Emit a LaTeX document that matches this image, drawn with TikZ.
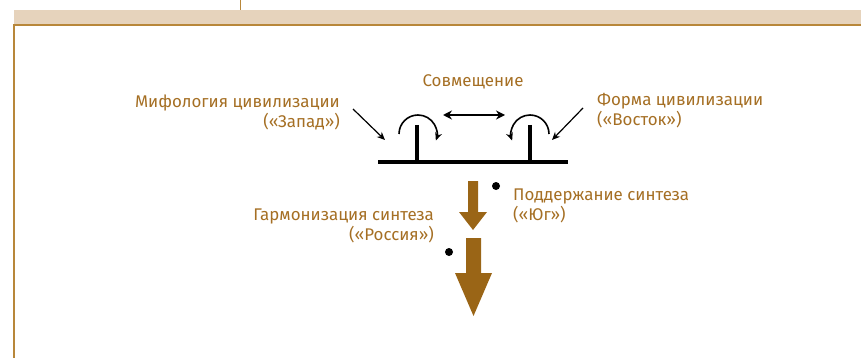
\documentclass[tikz,border=0pt]{standalone}
\usepackage{fontspec}
\setmainfont{Fira Sans}
\usetikzlibrary{arrows.meta}

\definecolor{beige}{HTML}{E6D3BC}
\definecolor{brun}{HTML}{B8873A}
\definecolor{ocre}{HTML}{9A6516}
\definecolor{texte}{HTML}{A56F24}

\tikzset{
  etiquette/.style={text=texte, inner sep=0pt, font=\fontsize{16.9}{20}\selectfont},
  fleche/.style={-{Stealth[length=8pt,width=7pt]}, line width=1.2pt},
  rotation/.style={-{Stealth[length=8pt,width=7pt]}, line width=1.6pt},
  support/.style={line width=3.5pt},
}

\begin{document}
\begin{tikzpicture}[x=1pt, y=-1pt]
  % Cadre
  \useasboundingbox (0,0) rectangle (861,358);
  \fill[beige] (14,10) rectangle (861,25);
  \draw[brun, line width=1.2pt] (14,358) -- (14,25) -- (861,25);
  \draw[brun, line width=1pt] (240,0) -- (240,10);

  % Points
  \coordinate (Bg) at (378,162);
  \coordinate (Bd) at (568,162);
  \coordinate (Pg) at (417,125);
  \coordinate (Pd) at (530,125);
  \coordinate (Eg) at (443,115);
  \coordinate (Ed) at (505,115);
  \coordinate (Zg) at (353,109);
  \coordinate (Dg) at (385,140);
  \coordinate (Zd) at (583,108);
  \coordinate (Dd) at (552,140);

  % Support et axes
  \draw[support] (Bg) -- (Bd);
  \draw[support] (Pg) -- (Pg |- Bg);
  \draw[support] (Pd) -- (Pd |- Bd);

  % Rotations
  \draw[rotation] (399,134) arc[start angle=180, end angle=380, radius=19];
  \draw[rotation] (549,134) arc[start angle=0, end angle=-200, radius=19];

  % Совмещение
  \node[etiquette, anchor=base] (sovm) at (473,87) {Совмещение};
  \draw[{Stealth[length=9pt,width=9pt]}-{Stealth[length=9pt,width=9pt]}, line width=2pt] (Eg) -- (Ed);

  % Запад et Восток
  \node[etiquette, anchor=base east, align=right] (zapad) at (340,128)
    {Мифология цивилизации\\(«Запад»)};
  \node[etiquette, anchor=base west, align=left] (vostok) at (597,126)
    {Форма цивилизации\\(«Восток»)};
  \draw[fleche] (Zg) -- (Dg);
  \draw[fleche] (Zd) -- (Dd);

  % Flèches de synthèse
  \fill[ocre] (468,181) -- (478,181) -- (478,212) -- (487,212) -- (473,230)
    -- (459,212) -- (468,212) -- cycle;
  \fill[ocre] (466,238) -- (481,238) -- (481,273) -- (492,273) -- (473.5,316)
    -- (455,273) -- (466,273) -- cycle;

  % Юг et Россия
  \fill (496,186) circle(4) coordinate (Mj);
  \fill (449,252) circle(4) coordinate (Mr);
  \node[etiquette, anchor=base west, align=left] (jug) at (513,220)
    {Поддержание синтеза\\(«Юг»)};
  \node[etiquette, anchor=base east, align=right] (rossija) at (434,240)
    {Гармонизация синтеза\\(«Россия»)};
\end{tikzpicture}
\end{document}
